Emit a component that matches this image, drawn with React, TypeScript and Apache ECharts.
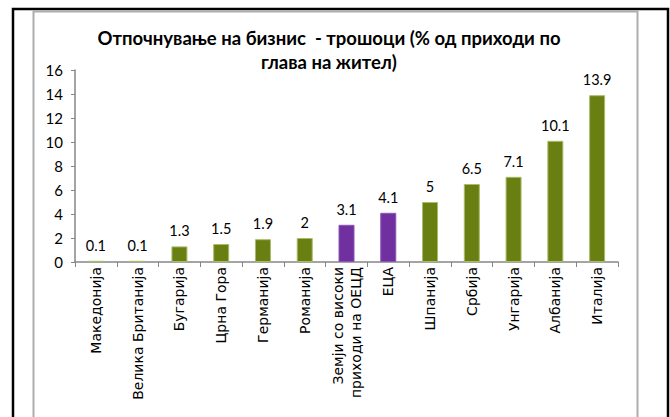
import React, { useEffect, useRef } from "react";
import * as echarts from "echarts";

const titleText = "Отпочнување на бизнис  - трошоци (% од приходи по\nглава на жител)";
const categories = [
  "Македонија",
  "Велика Британија",
  "Бугарија",
  "Црна Гора",
  "Германија",
  "Романија",
  "Земји со високи\nприходи на ОЕЦД",
  "ЕЦА",
  "Шпанија",
  "Србија",
  "Унгарија",
  "Албанија",
  "Италија",
];
const values = [0.1, 0.1, 1.3, 1.5, 1.9, 2, 3.1, 4.1, 5, 6.5, 7.1, 10.1, 13.9];
const highlighted = [false, false, false, false, false, false, true, true, false, false, false, false, false];

const GREEN = "#6A7F12";
const PURPLE = "#7030A0";
const FONT = "Lato, 'Liberation Sans', sans-serif";
const LABEL_FONT = "'DejaVu Sans', 'Open Sans', sans-serif";

export default function App() {
  const ref = useRef<HTMLDivElement>(null);
  useEffect(() => {
    if (!ref.current) return;
    const chart = echarts.init(ref.current, undefined, { renderer: "svg" });
    chart.setOption({
      animation: false,
      backgroundColor: "#fff",
      textStyle: { fontFamily: FONT },
      title: {
        text: titleText,
        left: 324,
        textAlign: "center",
        top: 21,
        textStyle: { fontFamily: FONT, fontSize: 18.5, fontWeight: "bold", color: "#000", lineHeight: 24 },
      },
      graphic: [
        {
          type: "rect",
          shape: { x: 13, y: 9, width: 655, height: 430 },
          style: { fill: "none", stroke: "#000", lineWidth: 2.5 },
          z: 10,
        },
        {
          type: "rect",
          shape: { x: 33.5, y: 11.5, width: 604, height: 430 },
          style: { fill: "none", stroke: "#ADADAD", lineWidth: 2 },
          z: 10,
        },
      ],
      grid: { left: 75, right: 52, top: 70, bottom: 155, containLabel: false },
      xAxis: {
        type: "category",
        data: categories,
        boundaryGap: true,
        axisLine: { lineStyle: { color: "#868686", width: 1.5 } },
        axisTick: { show: true, length: 5, alignWithLabel: false, lineStyle: { color: "#868686" } },
        axisLabel: {
          interval: 0,
          rotate: 90,
          margin: 5,
          fontSize: 14,
          color: "#000",
          fontFamily: LABEL_FONT,
          lineHeight: 18,
        },
      },
      yAxis: {
        type: "value",
        min: 0,
        max: 16,
        interval: 2,
        axisLine: { show: true, lineStyle: { color: "#868686", width: 1.5 } },
        axisTick: { show: true, length: 4, lineStyle: { color: "#868686" } },
        splitLine: { show: false },
        axisLabel: { fontSize: 15, color: "#000", fontFamily: FONT, margin: 12 },
      },
      series: [
        {
          type: "bar",
          barWidth: 16,
          data: values.map((v, i) => ({
            value: v,
            itemStyle: {
              color: highlighted[i] ? PURPLE : GREEN,
              borderColor: highlighted[i] ? "#8A55B5" : "#A9BC6A",
              borderWidth: 1,
            },
          })),
          label: {
            show: true,
            position: "top",
            distance: 8,
            fontSize: 14.5,
            color: "#000",
            fontFamily: FONT,
          },
        },
      ],
    });
    return () => chart.dispose();
  }, []);
  return (
    <div
      ref={ref}
      style={{ position: "fixed", left: 0, top: 0, width: 670, height: 417, background: "#fff" }}
    />
  );
}
